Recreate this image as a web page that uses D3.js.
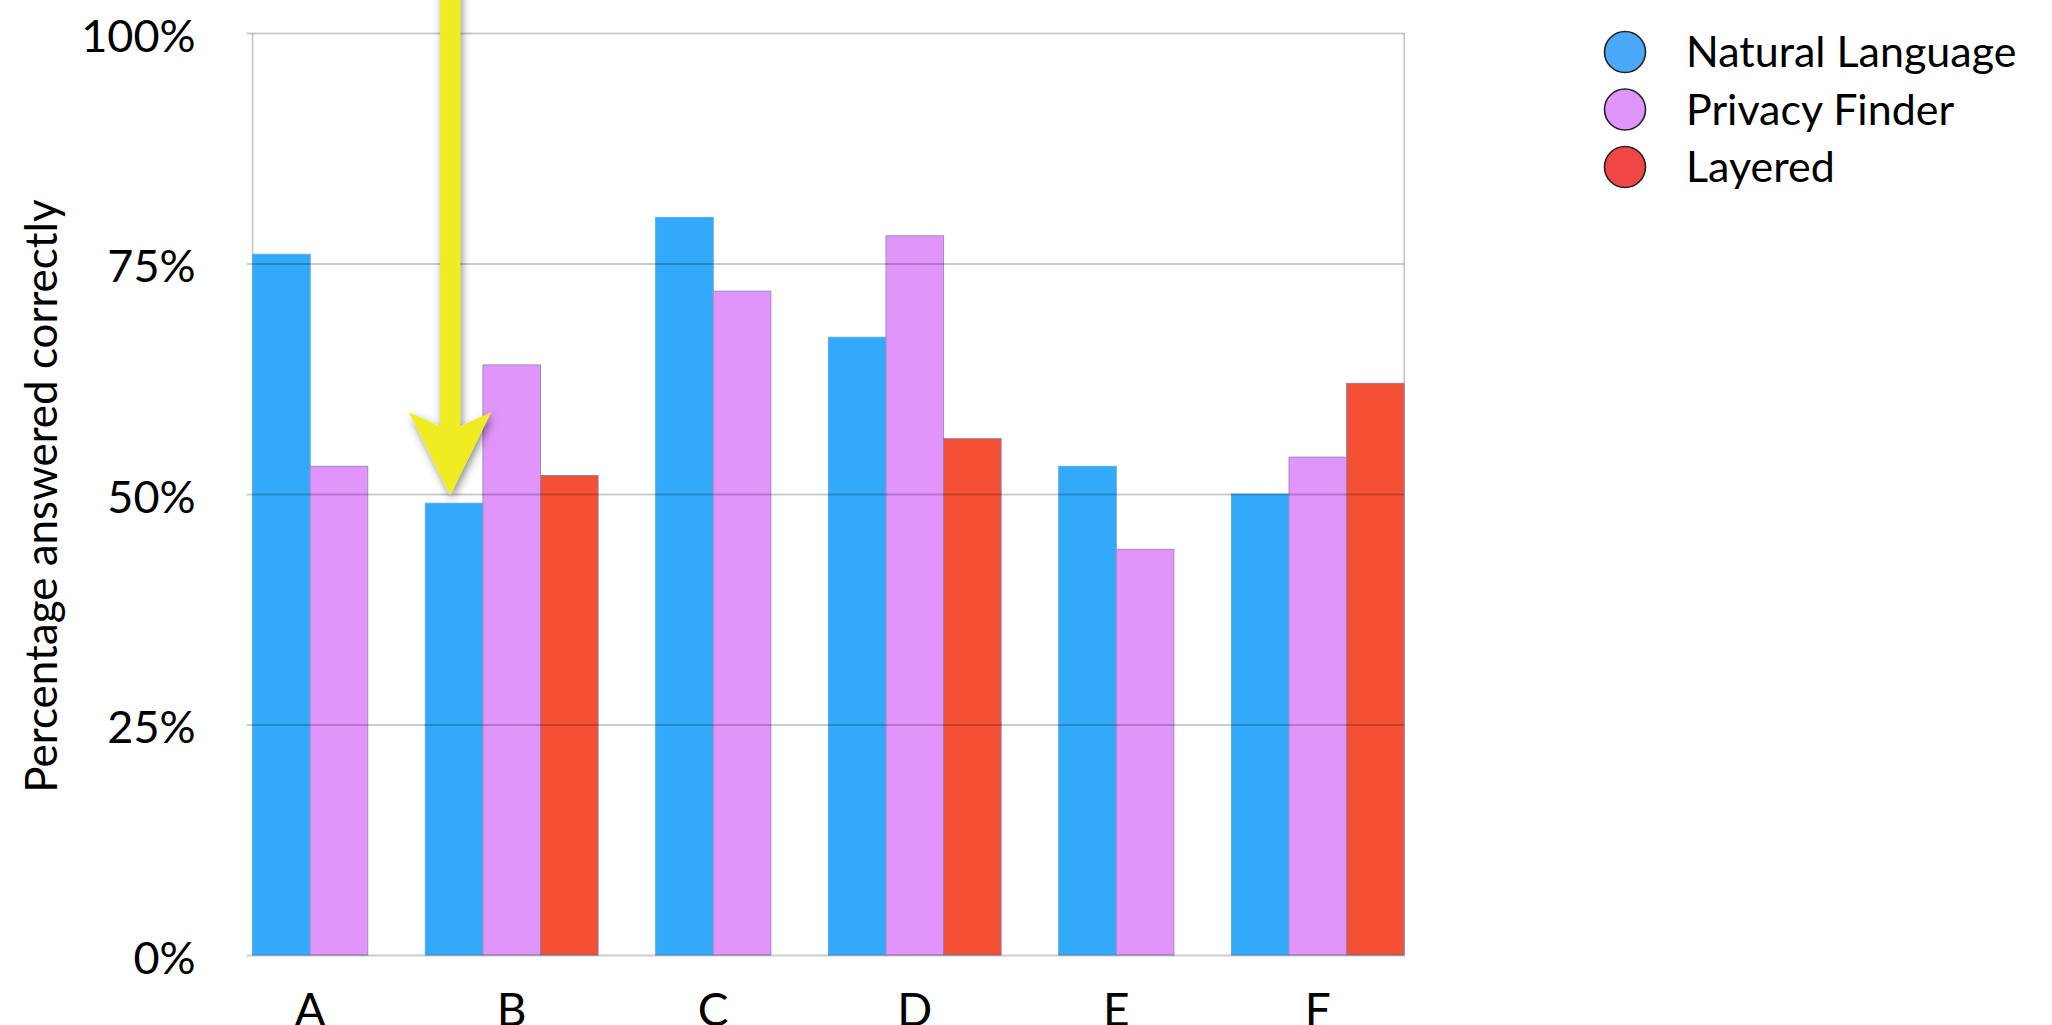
<!DOCTYPE html>
<html>
<head>
<meta charset="utf-8">
<script src="https://cdn.jsdelivr.net/npm/d3@7"></script>
<style>
  html, body { margin: 0; padding: 0; background: #fff; overflow: hidden; }
  svg { display: block; font-family: Lato, "Open Sans", sans-serif; }
</style>
</head>
<body>
<svg id="chart" width="2052" height="1025"></svg>
<script>
// Survey results: share of questions answered correctly per question and policy format
const categories = ["A", "B", "C", "D", "E", "F"];
const naturalLanguage = [76, 49, 80, 67, 53, 50];
const privacyFinder = [53, 64, 72, 78, 44, 54];
const layered = [null, 52, null, 56, null, 62];
const seriesNames = ["Natural Language", "Privacy Finder", "Layered"];
const seriesColors = ["#33aaf9", "#e195fa", "#f55034"];
const legendColors = ["#4aa8f8", "#e095fa", "#f04646"];
const yTicks = [0, 25, 50, 75, 100];
const highlighted = { category: "B", series: 0 };

const svg = d3.select("#chart");
const margin = { left: 252.6, right: 1404.2, top: 33, bottom: 955 };

// Bars only occupy slots for values that exist; groups are separated by one empty slot
const seriesValues = [naturalLanguage, privacyFinder, layered];
const bars = [];
const groups = [];
let slot = 0;
categories.forEach((cat, ci) => {
  const start = slot;
  seriesValues.forEach((vals, si) => {
    if (vals[ci] != null) {
      bars.push({ cat, series: si, value: vals[ci], slot });
      slot += 1;
    }
  });
  groups.push({ cat, start, end: slot });
  slot += 1; // gap
});
const totalSlots = slot - 1;

const x = d3.scaleLinear().domain([0, totalSlots]).range([margin.left, margin.right]);
const y = d3.scaleLinear().domain([0, 100]).range([margin.bottom, margin.top]);
const barW = x(1) - x(0);

// Plot frame (left and right borders)
svg.append("line")
  .attr("x1", margin.left).attr("x2", margin.left)
  .attr("y1", y(100)).attr("y2", y(0))
  .attr("stroke", "#c4c4c4").attr("stroke-width", 1.5);
svg.append("line")
  .attr("x1", margin.right).attr("x2", margin.right)
  .attr("y1", y(100)).attr("y2", y(0))
  .attr("stroke", "#c4c4c4").attr("stroke-width", 1.5);

// Bars
const barStroke = ["#5aa9ee", "#9c8cc0", "#8f7fae"];
svg.append("g").selectAll("rect")
  .data(bars)
  .join("rect")
  .attr("x", d => x(d.slot))
  .attr("y", d => y(d.value))
  .attr("width", barW)
  .attr("height", d => y(0) - y(d.value))
  .attr("fill", d => seriesColors[d.series])
  .attr("stroke", d => barStroke[d.series])
  .attr("stroke-width", 1);

// Horizontal gridlines with short tick marks, drawn across the bars
const yAxis = d3.axisLeft(y)
  .tickValues(yTicks)
  .tickSize(-(margin.right - margin.left))
  .tickFormat(d => d + "%")
  .tickPadding(58);
const yg = svg.append("g")
  .attr("transform", `translate(${margin.left},0)`)
  .call(yAxis);
yg.select(".domain").remove();
yg.selectAll(".tick line")
  .attr("x1", -6)
  .attr("stroke", "#000")
  .attr("stroke-opacity", 0.2)
  .attr("stroke-width", 2.2);
yg.selectAll(".tick text")
  .attr("x", -57)
  .attr("dy", "0.4em")
  .attr("fill", "#000")
  .style("font-size", "45px")
  .style("font-family", "Lato, sans-serif");

// Category labels
svg.append("g").selectAll("text")
  .data(groups)
  .join("text")
  .attr("x", d => (x(d.start) + x(d.end)) / 2)
  .attr("y", 1026)
  .attr("text-anchor", "middle")
  .attr("fill", "#000")
  .style("font-size", "46px")
  .text(d => d.cat);

// Y axis title
svg.append("text")
  .attr("transform", `translate(42,${(y(0) + y(100)) / 2 + 2}) rotate(-90)`)
  .attr("text-anchor", "middle")
  .attr("dy", "0.35em")
  .attr("fill", "#000")
  .style("font-size", "44px")
  .text("Percentage answered correctly");

// Legend
const legend = svg.append("g").attr("transform", "translate(1625,52)");
const items = legend.selectAll("g")
  .data(seriesNames)
  .join("g")
  .attr("transform", (d, i) => `translate(0,${i * 57.5})`);
items.append("circle")
  .attr("r", 20.5)
  .attr("fill", (d, i) => legendColors[i])
  .attr("stroke", "#222")
  .attr("stroke-width", 1.6);
items.append("text")
  .attr("x", 61)
  .attr("dy", "0.36em")
  .attr("fill", "#000")
  .style("font-size", "43px")
  .text(d => d);

// Yellow call-out arrow pointing at the highlighted bar
const defs = svg.append("defs");
const shadow = defs.append("filter").attr("id", "arrowShadow")
  .attr("x", "-50%").attr("y", "-10%").attr("width", "200%").attr("height", "130%");
shadow.append("feDropShadow")
  .attr("dx", 2).attr("dy", 4).attr("stdDeviation", 4)
  .attr("flood-color", "#000").attr("flood-opacity", 0.45);

const target = bars.find(b => b.cat === highlighted.category && b.series === highlighted.series);
const tx = x(target.slot) + barW / 2 - 4;
const ty = y(target.value) - 8;
const half = 10, wing = 41, wingY = 83, notchY = 69;
const arrowPath = d3.path();
arrowPath.moveTo(tx - half, -10);
arrowPath.lineTo(tx - half, ty - notchY);
arrowPath.lineTo(tx - wing, ty - wingY);
arrowPath.lineTo(tx, ty);
arrowPath.lineTo(tx + wing, ty - wingY);
arrowPath.lineTo(tx + half, ty - notchY);
arrowPath.lineTo(tx + half, -10);
arrowPath.closePath();
svg.append("path")
  .attr("d", arrowPath.toString())
  .attr("fill", "#efec22")
  .attr("filter", "url(#arrowShadow)");
</script>
</body>
</html>
